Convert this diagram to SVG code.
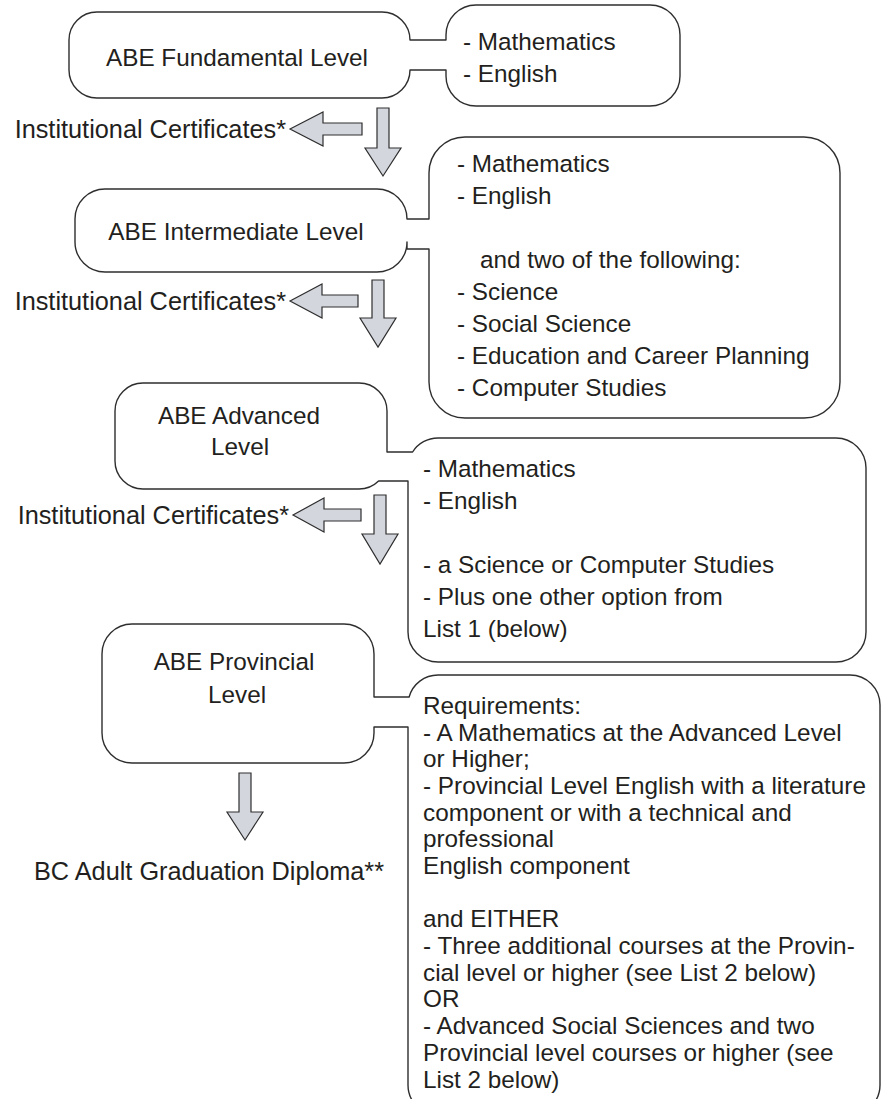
<svg xmlns="http://www.w3.org/2000/svg" width="885" height="1099" viewBox="0 0 885 1099">
<defs>
<style>
.box{fill:#ffffff;stroke:#2e2e2e;stroke-width:1.4;stroke-linejoin:round}
.arr{fill:#d3d6dd;stroke:#2e2e2e;stroke-width:1.2;stroke-linejoin:miter}
text{font-family:"Liberation Sans",Arial,sans-serif;font-size:24.3px;fill:#231f20}
.lbl{font-size:25.3px}
.c{text-anchor:middle}
.e{text-anchor:end}
</style>
</defs>
<rect x="0" y="0" width="885" height="1099" fill="#ffffff"/>

<g id="node-fundamental">
<path class="box" d="M97,12 H382 A28,28 0 0 1 410,40 H446 V35 A30,30 0 0 1 476,5 H650 A30,30 0 0 1 680,35 V76 A30,30 0 0 1 650,106 H476 A30,30 0 0 1 446,76 V70 H410 A28,28 0 0 1 382,98 H97 A28,28 0 0 1 69,70 V40 A28,28 0 0 1 97,12 Z"/>
<text class="c" x="237" y="66">ABE Fundamental Level</text>
<text x="463" y="50">- Mathematics</text>
<text x="463" y="82">- English</text>
</g>

<g id="node-intermediate">
<path class="box" d="M105,189 H377 A30,30 0 0 1 407,219 H429 V173 A36,36 0 0 1 465,137 H804 A36,36 0 0 1 840,173 V382 A36,36 0 0 1 804,418 H465 A36,36 0 0 1 429,382 V249 H407 V242 A30,30 0 0 1 377,272 H105 A30,30 0 0 1 75,242 V219 A30,30 0 0 1 105,189 Z"/>
<text class="c" x="236" y="240">ABE Intermediate Level</text>
<text x="457" y="172">- Mathematics</text>
<text x="457" y="204">- English</text>
<text x="480" y="268">and two of the following:</text>
<text x="457" y="300">- Science</text>
<text x="457" y="332">- Social Science</text>
<text x="457" y="364">- Education and Career Planning</text>
<text x="457" y="396">- Computer Studies</text>
</g>

<g id="node-advanced">
<path class="box" d="M143,383 H359 A28,28 0 0 1 387,411 V452 H412.6 A30,30 0 0 1 438,438 H836 A30,30 0 0 1 866,468 V632 A30,30 0 0 1 836,662 H438 A30,30 0 0 1 408,632 V481 H378.6 A28,28 0 0 1 359,489 H143 A28,28 0 0 1 115,461 V411 A28,28 0 0 1 143,383 Z"/>
<text class="c" x="239" y="424">ABE Advanced</text>
<text class="c" x="240" y="455">Level</text>
<text x="423" y="477">- Mathematics</text>
<text x="423" y="509">- English</text>
<text x="423" y="573">- a Science or Computer Studies</text>
<text x="423" y="605">- Plus one other option from</text>
<text x="423" y="637">List 1 (below)</text>
</g>

<g id="node-provincial">
<path class="box" d="M132,624 H344 A30,30 0 0 1 374,654 V697 H409.1 A30,30 0 0 1 438,675 H850 A30,30 0 0 1 880,705 V1085 A30,30 0 0 1 850,1115 H438 A30,30 0 0 1 408,1085 V727 H374 V733 A30,30 0 0 1 344,763 H132 A30,30 0 0 1 102,733 V654 A30,30 0 0 1 132,624 Z"/>
<text class="c" x="234" y="670">ABE Provincial</text>
<text class="c" x="237" y="703">Level</text>
<text x="423" y="714">Requirements:</text>
<text x="423" y="741">- A Mathematics at the Advanced Level</text>
<text x="423" y="767">or Higher;</text>
<text x="423" y="794">- Provincial Level English with a literature</text>
<text x="423" y="821">component or with a technical and</text>
<text x="423" y="847">professional</text>
<text x="423" y="874">English component</text>
<text x="423" y="927">and EITHER</text>
<text x="423" y="954">- Three additional courses at the Provin-</text>
<text x="423" y="981">cial level or higher (see List 2 below)</text>
<text x="423" y="1007">OR</text>
<text x="423" y="1034">- Advanced Social Sciences and two</text>
<text x="423" y="1061">Provincial level courses or higher (see</text>
<text x="423" y="1088">List 2 below)</text>
</g>

<g id="node-certificates">
<text class="e lbl" x="286" y="138">Institutional Certificates*</text>
<text class="e lbl" x="286" y="310">Institutional Certificates*</text>
<text class="e lbl" x="289" y="524">Institutional Certificates*</text>
</g>

<g id="node-diploma">
<text class="c lbl" x="209" y="880">BC Adult Graduation Diploma**</text>
</g>

<g id="connectors">
<polygon class="arr" points="290,129 323,112 323,123 362,123 362,135 323,135 323,146"/>
<polygon class="arr" points="377,108 389,108 389,148 401,148 383,176 365,148 377,148"/>
<polygon class="arr" points="290,301 322,284 322,295 358,295 358,307 322,307 322,318"/>
<polygon class="arr" points="372,280 384,280 384,318 396,318 378,347 360,318 372,318"/>
<polygon class="arr" points="293,515 324,498 324,509 361,509 361,521 324,521 324,532"/>
<polygon class="arr" points="374,495 386,495 386,534 398,534 380,564 362,534 374,534"/>
<polygon class="arr" points="239,773 251,773 251,812 263,812 245,840 227,812 239,812"/>
</g>
</svg>
